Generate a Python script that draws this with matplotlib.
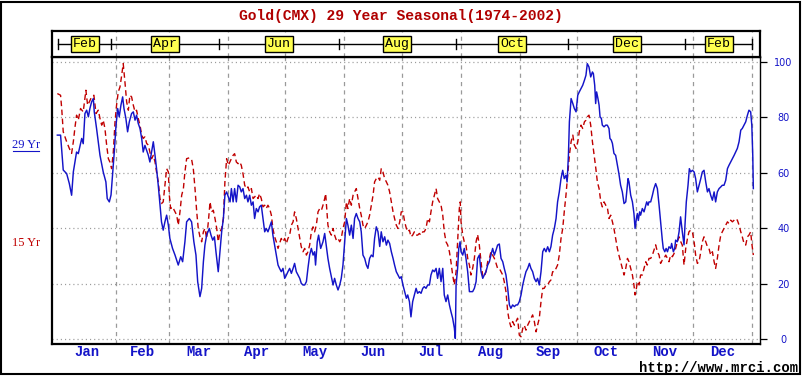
import matplotlib
matplotlib.use("Agg")
import matplotlib.pyplot as plt
from matplotlib.patches import Rectangle
from matplotlib.lines import Line2D

plt.rcParams['lines.scale_dashes'] = False

# ---------------- data (day of year, seasonal index 0-100) ----------------
blue_days = [0.2, 1.9, 3.3, 5.1, 6.5, 7.7, 8.6, 10.3, 11.2, 13.0, 13.8, 14.7, 15.6, 16.5, 17.3, 18.2, 19.1, 19.6,
             20.8, 22.6, 24.3, 25.7, 26.4, 27.5, 28.4, 29.2, 30.1, 31.0, 31.9, 32.7, 33.6, 34.5, 35.2, 36.2, 37.1,
             38.0, 39.2, 40.1, 41.0, 41.8, 42.7, 43.6, 44.5, 45.3, 46.2, 47.1, 48.0, 48.8, 49.7, 50.6, 51.5, 52.3,
             53.2, 54.1, 54.9, 55.8, 56.7, 57.6, 58.5, 59.3, 60.7, 62.0, 63.7, 65.0, 66.0, 67.2, 68.1, 69.5, 70.7,
             71.9, 73.0, 73.9, 75.1, 76.0, 76.9, 77.7, 78.6, 80.0, 80.9, 81.8, 82.7, 83.5, 84.7, 85.6, 86.5, 87.4,
             88.2, 89.1, 90.9,
             91.6, 92.5, 93.3, 94.2, 95.1, 96.0, 96.8, 97.7, 98.6, 99.5, 100.3, 101.2, 102.1, 103.0, 103.8, 104.7,
             105.6, 106.4, 107.3, 108.2, 109.1, 109.9, 110.8, 111.7, 112.6, 113.4, 114.3, 115.2, 116.1, 116.9,
             117.8, 118.7, 119.6, 120.5, 121.3, 122.2, 123.1, 124.0, 124.8, 125.7, 126.6, 127.5, 128.3, 129.2,
             130.1, 131.0, 131.8, 132.7, 133.6, 134.5, 135.3, 135.8, 136.7, 137.4, 138.5, 139.7, 140.6, 141.4,
             142.3, 143.2, 144.1, 145.0, 145.8, 146.7, 147.6, 148.5, 149.3, 150.2, 151.1, 152.0, 152.8, 153.7,
             154.6, 155.5, 156.3, 157.2, 158.1, 159.0, 159.8, 160.7, 161.6, 162.5, 163.3, 164.2, 165.1, 166.0,
             166.8, 167.7, 168.6, 169.5, 170.3, 171.2, 172.1, 173.0, 173.8, 174.7, 175.6, 176.5, 177.3, 178.2,
             179.1, 180.0, 180.8, 181.7, 182.6, 183.5,
             184.2, 185.1, 185.9, 186.8, 187.7, 188.6, 189.4, 190.3, 191.2, 192.1, 192.9, 193.8, 194.7, 195.6,
             196.4, 197.3, 198.2, 199.1, 199.9, 200.8, 201.7, 202.6, 203.4, 204.3, 205.2, 206.1, 206.9, 207.8,
             208.7, 209.2, 209.6, 210.4, 211.0, 211.7, 212.2, 213.1, 213.9, 214.8, 215.7, 216.6, 217.4, 218.3,
             219.2, 220.1, 220.9, 221.8, 222.7, 223.6, 224.4, 225.3, 226.2, 227.1, 227.9, 228.8, 229.7, 230.6,
             231.4, 232.3, 233.2, 234.1, 234.9, 235.8, 236.7, 237.6, 238.4, 239.3, 240.2, 241.1, 241.9, 242.8,
             243.7, 244.6, 245.4, 246.3, 247.2, 248.1, 248.9, 249.8, 250.7, 251.6, 252.4, 253.3, 254.2, 255.1,
             255.9, 256.8, 257.7, 258.6, 259.4, 260.3, 261.2, 262.1, 262.9, 263.8, 264.7, 265.6, 266.4, 267.3,
             267.9, 268.6, 269.1, 270.0, 270.9, 271.7, 272.6, 273.5, 274.3, 275.2, 276.1, 277.0, 277.8,
             278.5, 279.4, 280.3, 281.2, 281.7, 282.4, 282.9, 283.4, 284.1, 284.7, 285.2, 285.9, 286.4, 287.3,
             288.2, 289.0, 289.9, 290.4, 291.1, 291.7, 292.5, 293.4, 294.3, 295.1, 296.0, 296.9, 297.8, 298.7,
             299.2, 299.9, 300.4, 301.3, 302.2, 303.0, 303.6, 304.3, 304.8, 305.3, 306.0, 306.5, 307.4, 308.3,
             309.2, 309.7, 310.4, 310.9, 311.8, 312.7, 313.5, 314.4, 315.3, 316.2, 317.0, 317.9, 318.4, 319.2,
             319.9, 320.6, 321.4, 322.3, 322.8, 323.7, 324.4, 324.9, 325.8, 326.7, 327.5, 328.4, 329.3, 329.8,
             330.5, 331.4, 332.1, 332.8, 333.7, 334.6, 335.4, 336.3, 337.2, 338.1, 338.9, 339.8, 340.7, 341.6,
             342.4, 343.3, 344.2, 345.1, 345.9, 346.8, 347.7, 348.6, 349.4, 350.3, 351.2, 352.1, 352.9, 353.8,
             354.7, 355.6, 356.4, 357.3, 358.2, 359.1, 359.9, 360.8, 361.7, 362.6, 363.4, 364.3, 364.9, 365.4,
             365.7]
blue_vals = [73.6, 73.6, 61.0, 59.7, 56.1, 51.9, 60.3, 67.5, 66.9, 72.4, 70.5, 81.4, 82.6, 80.2, 83.2, 85.6, 86.8, 82.0,
             76.0, 66.3, 60.3, 56.7, 50.7, 49.5, 52.0, 59.1, 67.5, 77.0, 83.2, 80.2, 84.4, 87.4, 83.2, 79.6, 74.8,
             78.4, 81.4, 82.0, 79.0, 80.8, 77.8, 76.0, 72.4, 67.5, 69.9, 68.1, 66.3, 63.9, 67.5, 71.2, 66.3, 61.5,
             55.5, 48.3, 42.3, 39.3, 42.3, 44.7, 41.1, 36.3, 32.7, 30.3, 26.7, 29.7, 27.9, 35.1, 42.3, 43.5, 42.3,
             35.1, 30.3, 20.7, 15.3, 18.3, 27.9, 33.9, 37.5, 39.9, 37.5, 35.7, 36.9, 31.5, 24.3, 31.5, 38.7, 43.5,
             51.9, 53.1, 49.5,
             54.3, 49.5, 54.3, 49.5, 55.5, 54.9, 53.1, 54.3, 50.7, 51.9, 49.5, 51.9, 48.3, 49.5, 43.5, 47.1,
             45.9, 47.7, 48.3, 43.5, 38.7, 39.9, 38.7, 40.5, 42.3, 37.5, 33.9, 30.3, 26.7, 25.5,
             24.3, 25.5, 21.9, 23.1, 24.3, 25.5, 23.7, 25.5, 27.3, 24.3, 23.1, 21.9, 20.1, 19.5,
             19.5, 20.7, 25.5, 30.3, 32.7, 30.3, 31.5, 26.7, 35.1, 37.5, 32.7, 35.1, 38.1, 34.0,
             29.1, 25.5, 22.5, 19.5, 21.9, 19.5, 17.7, 19.5, 21.9, 26.7, 35.1, 43.5, 41.1, 37.5,
             41.1, 36.3, 43.5, 45.3, 43.5, 42.3, 38.7, 30.3, 29.1, 26.7, 25.5, 29.1, 30.3, 29.7,
             36.3, 40.5, 38.7, 33.4, 38.7, 35.1, 36.9, 33.9, 35.7, 34.5, 31.5, 29.1, 26.7, 24.3,
             23.1, 21.9, 22.5, 19.5, 17.1, 14.7,
             15.9, 13.5, 8.0, 13.5, 15.9, 18.3, 16.5, 17.1, 16.5, 18.3, 18.9, 18.3, 19.5, 19.5,
             23.1, 24.9, 24.3, 25.5, 21.9, 25.5, 20.7, 25.5, 15.9, 13.5, 15.9, 12.3, 9.9, 7.5,
             3.9, 0.2, 19.5, 25.5, 32.7, 35.1, 31.5, 30.3, 32.7, 29.1, 24.3, 17.1, 17.1, 17.1,
             18.3, 20.7, 29.1, 30.3, 24.3, 21.9, 23.1, 24.3, 26.7, 27.9, 30.3, 32.7, 30.3, 32.1,
             33.9, 34.3, 29.1, 27.9, 25.5, 23.1, 18.3, 12.3, 11.1, 12.3, 11.7, 12.3, 12.3, 13.5,
             15.9, 19.5, 21.9, 24.3, 25.5, 27.3, 25.5, 24.3, 21.9, 20.7, 21.9, 19.5, 24.3, 31.5,
             32.7, 31.5, 33.3, 31.5, 33.3, 37.5, 39.9, 43.5, 49.5, 53.1, 57.9, 60.9, 57.9, 59.1,
             56.7, 66.3, 78.4, 86.8, 85.0, 83.2, 82.0, 88.0, 89.2, 90.4, 91.6, 93.4, 95.2,
             99.4, 98.2, 94.6, 96.4, 95.8, 91.6, 85.0, 89.2, 86.8, 84.4, 80.2, 79.6, 77.2, 76.6,
             77.2, 77.2, 76.0, 72.4, 71.8, 70.6, 67.0, 66.3, 62.7, 59.7, 55.5, 53.1, 48.9, 49.5,
             53.1, 57.9, 56.7, 51.9, 49.5, 45.3, 39.9, 43.5, 45.3, 42.8, 45.9, 44.7, 47.1, 45.9,
             48.3, 49.5, 48.3, 49.5, 49.5, 51.9, 54.3, 56.1, 54.3, 48.3, 42.3, 35.7, 32.7, 31.5,
             32.7, 31.5, 33.3, 32.7, 34.5, 31.5, 32.7, 35.7, 35.1, 38.7, 44.1, 38.7, 34.0, 41.1,
             49.5, 55.5, 61.5, 60.3, 60.9, 60.3, 57.9, 53.1, 55.5, 57.9, 60.3, 60.9, 56.7, 53.1,
             54.3, 51.9, 50.1, 53.1, 49.5, 53.1, 54.3, 54.9, 55.5, 55.5, 57.3, 61.5, 62.7, 63.9,
             65.1, 66.3, 67.5, 68.8, 71.2, 75.4, 76.0, 77.2, 78.4, 80.8, 82.6, 82.0, 77.2, 66.3,
             54.3]

red_days = [0.2, 1.9, 2.5, 3.3, 4.2, 5.1, 6.5, 7.7, 8.6, 9.5, 10.3, 11.2, 12.4, 13.8, 15.2, 16.1, 17.0, 18.2, 19.4,
            20.5, 21.7, 22.6, 23.5, 24.3, 25.2, 26.1, 27.0, 27.8, 28.7, 29.6, 30.5, 31.3, 32.2, 33.1, 34.0, 34.8,
            35.7, 36.6, 37.5, 38.3, 39.2, 40.1, 41.0, 41.8, 42.7, 43.6, 44.5, 45.3, 46.2, 47.1, 48.0, 48.8, 49.7,
            50.6, 51.5, 52.3, 53.2, 54.1, 54.9, 55.8, 56.7, 57.6, 58.5, 59.0, 59.7, 60.7, 62.0, 62.9, 63.7, 64.6,
            65.5, 66.4, 67.2, 68.1, 69.5, 70.7, 71.6, 72.5, 73.4, 74.2, 75.1, 76.0, 76.9, 77.7, 78.6, 79.5, 80.4,
            81.2, 82.1, 83.0, 83.9, 84.7, 85.6, 86.5, 87.4, 88.2, 89.1, 90.0,
            91.6, 92.5, 93.3, 94.2, 95.1, 96.0, 96.8, 97.7, 98.6, 99.5, 100.3, 101.2, 102.1, 103.0, 103.8,
            104.7, 105.6, 106.4, 107.3, 108.2, 109.1, 109.9, 110.8, 111.7, 112.6, 113.4, 114.3, 115.2, 116.1,
            116.9, 117.8, 118.7, 119.6, 120.5, 121.3, 122.2, 123.1, 124.0, 124.8, 125.7, 126.6, 127.5, 128.3,
            129.2, 130.1, 131.0, 131.8, 132.7, 133.6, 134.5, 135.3, 136.2, 137.1, 138.0, 138.9, 139.7, 140.6,
            141.1, 141.8, 142.3, 143.2, 144.1, 145.0, 145.8, 146.7, 147.6, 148.5, 149.3, 150.2, 151.1, 152.0,
            152.8, 153.7, 154.6, 155.5, 156.3, 157.2, 158.1, 159.0, 159.8, 160.7, 161.6, 162.5, 163.3, 164.2,
            165.1, 166.0, 166.8, 167.7, 168.6, 169.5, 170.3, 171.2, 172.1, 173.0, 173.8, 174.7, 175.6, 176.5,
            177.3, 178.2, 179.1, 180.0, 180.8, 181.7, 182.6, 183.5,
            184.2, 185.1, 185.9, 186.8, 187.7, 188.6, 189.4, 190.3, 191.2, 192.1, 192.9, 193.8, 194.7, 195.6,
            196.4, 197.3, 198.2, 199.1, 199.9, 200.8, 201.7, 202.6, 203.4, 204.3, 205.2, 206.1, 206.9, 207.8,
            208.7, 209.6, 210.4, 211.3, 211.8, 212.2, 213.1, 213.9, 214.8, 215.7, 216.6, 217.4, 218.3, 219.2,
            220.1, 220.9, 221.8, 222.7, 223.6, 224.4, 225.3, 226.2, 227.1, 227.9, 228.8, 229.7, 230.6, 231.4,
            232.3, 233.2, 234.1, 234.9, 235.8, 236.7, 237.6, 238.4, 239.3, 240.2, 241.1, 241.9, 242.8, 243.7,
            244.6, 245.4, 246.3, 247.2, 248.1, 248.9, 249.8, 250.7, 251.6, 252.4, 253.3, 254.2, 255.1, 255.9,
            256.8, 257.7, 258.6, 259.4, 260.3, 261.2, 262.1, 262.9, 263.8, 264.7, 265.6, 266.4, 267.3, 268.2,
            269.1, 270.0, 270.9, 271.7, 272.6, 273.5, 274.3, 275.2, 276.1, 277.0, 277.8,
            278.5, 279.4, 280.3, 281.2, 282.1, 283.0, 283.8, 284.7, 285.6, 286.4, 287.3, 288.2, 289.0, 289.9,
            290.8, 291.7, 292.5, 293.4, 294.3, 295.1, 296.0, 296.9, 297.8, 298.7, 299.6, 300.4, 301.3, 302.2,
            303.0, 303.6, 304.3, 304.8, 305.7, 306.5, 307.4, 308.3, 309.2, 310.0, 310.9, 311.8, 312.7, 313.5,
            314.4, 315.3, 316.2, 317.0, 317.9, 318.8, 319.7, 320.6, 321.4, 322.3, 323.2, 324.1, 324.9, 325.8,
            326.7, 327.6, 328.4, 329.3, 330.2, 331.1, 331.9, 332.8, 333.7, 334.6, 335.4, 336.3, 337.2, 338.1,
            338.9, 339.8, 340.7, 341.6, 342.4, 343.3, 344.2, 345.1, 345.9, 346.8, 347.7, 348.6, 349.4, 350.3,
            351.2, 352.1, 352.9, 353.8, 354.7, 355.6, 356.4, 357.3, 358.2, 359.1, 359.9, 360.8, 361.7, 362.6,
            363.4, 364.3, 364.9, 365.7]
red_vals = [88.6, 88.0, 83.2, 74.8, 73.0, 71.2, 68.8, 67.0, 71.2, 76.6, 80.8, 79.0, 83.2, 82.0, 89.8, 84.4, 85.6, 87.4, 88.0,
            81.4, 82.6, 79.6, 77.2, 79.0, 76.0, 70.0, 65.1, 63.9, 61.5, 67.5, 78.4, 84.4, 89.2, 91.0, 95.2, 99.4,
            92.8, 85.6, 82.6, 88.0, 87.4, 84.4, 82.0, 82.6, 79.6, 77.2, 73.6, 72.4, 73.0, 70.6, 70.0, 67.5, 65.1,
            66.3, 63.9, 60.3, 56.7, 50.7, 48.9, 49.5, 55.5, 61.5, 60.3, 51.9, 47.1, 47.7, 45.9, 44.7, 41.1, 45.9,
            51.9, 54.3, 60.3, 65.1, 65.4, 64.9, 61.5, 54.3, 45.9, 39.9, 36.9, 35.1, 38.7, 39.9, 36.3, 42.3, 49.5,
            45.9, 46.5, 43.5, 39.9, 35.1, 38.7, 39.9, 43.5, 56.7, 65.1, 62.7,
            65.1, 66.3, 66.9, 63.9, 63.3, 63.9, 62.7, 59.7, 55.5, 54.3, 54.9, 53.1, 54.3, 50.7, 51.3,
            51.9, 50.7, 52.5, 50.7, 47.7, 48.3, 47.1, 48.3, 47.1, 44.7, 39.9, 36.9, 35.1, 32.7,
            34.5, 36.3, 35.1, 36.3, 34.5, 36.3, 37.5, 41.1, 42.3, 45.9, 43.5, 39.9, 36.3, 33.3,
            31.5, 32.7, 30.3, 31.5, 33.9, 38.7, 40.5, 38.7, 41.1, 45.9, 47.1, 46.5, 48.3, 50.7,
            52.5, 45.9, 41.1, 38.7, 37.5, 39.9, 37.5, 35.7, 36.3, 35.1, 36.3, 39.9, 42.3, 49.5,
            47.1, 50.7, 48.3, 51.9, 53.1, 54.3, 50.7, 47.1, 44.7, 41.1, 39.9, 41.1, 42.3, 44.7,
            48.3, 51.9, 56.7, 57.9, 58.5, 57.3, 61.5, 60.3, 57.9, 56.7, 55.5, 53.1, 49.5, 45.9,
            43.5, 41.1, 39.9, 42.3, 45.9, 45.9, 42.3, 39.9,
            38.7, 39.3, 36.9, 37.5, 38.7, 37.5, 37.5, 38.1, 37.5, 38.7, 38.7, 39.9, 43.5, 42.3,
            45.9, 49.5, 51.9, 54.3, 50.7, 49.5, 48.3, 44.7, 38.7, 35.1, 33.9, 31.5, 27.9, 23.1,
            19.5, 24.3, 35.1, 47.1, 49.5, 42.3, 37.5, 35.1, 33.9, 29.1, 26.7, 23.1, 25.5, 29.1,
            35.1, 37.7, 33.9, 27.9, 22.5, 22.5, 24.3, 27.9, 29.1, 31.5, 30.3, 29.1, 27.3, 25.5,
            25.5, 24.3, 23.1, 20.7, 17.1, 9.9, 6.3, 4.4, 6.3, 5.0, 6.3, 7.5, 1.4, 0.8,
            3.8, 5.0, 3.2, 5.0, 6.3, 7.5, 8.7, 6.3, 2.6, 5.0, 7.5, 13.5, 18.3, 18.3,
            19.5, 19.5, 20.7, 21.3, 24.3, 24.3, 25.5, 26.7, 30.3, 36.3, 39.9, 45.9, 51.9, 59.1,
            66.3, 71.2, 73.6, 70.0, 68.8, 71.2, 74.8, 77.2, 76.0, 78.4, 79.0,
            80.2, 80.8, 77.2, 71.2, 66.3, 61.5, 56.7, 54.3, 49.5, 47.7, 49.5, 48.3, 47.7, 43.5,
            44.7, 42.3, 39.9, 36.3, 32.7, 30.3, 27.9, 25.5, 23.1, 25.5, 29.1, 27.9, 25.5, 23.1,
            19.5, 15.9, 18.3, 20.7, 19.5, 23.1, 23.1, 25.5, 27.9, 26.7, 29.1, 29.1, 30.3, 32.1,
            34.0, 31.5, 30.3, 27.3, 28.5, 29.1, 30.3, 29.1, 27.9, 30.3, 29.7, 30.9, 32.7, 35.1,
            36.9, 35.1, 33.9, 26.7, 32.7, 36.3, 38.7, 39.3, 38.7, 35.1, 30.3, 27.3, 27.9, 31.5,
            35.1, 36.9, 35.1, 33.3, 32.7, 30.3, 31.5, 27.9, 25.5, 29.1, 33.9, 37.5, 38.7, 39.9,
            41.1, 42.3, 41.7, 42.9, 42.3, 42.9, 43.5, 42.9, 41.1, 38.7, 36.9, 34.5, 33.9, 36.9,
            37.5, 38.7, 34.5, 30.3]

month_labels = ["Jan", "Feb", "Mar", "Apr", "May", "Jun", "Jul", "Aug", "Sep", "Oct", "Nov", "Dec"]
month_starts = [0, 31, 59, 90, 120, 151, 181, 212, 243, 273, 304, 334, 365]
contract_labels = ["Feb", "Apr", "Jun", "Aug", "Oct", "Dec", "Feb"]
contract_bounds = [0.5, 28.5, 85, 148, 209.5, 268.5, 330, 365]
y_ticks = [0, 20, 40, 60, 80, 100]

title = "Gold(CMX) 29 Year Seasonal(1974-2002)"
blue_label = "29 Yr"
red_label = "15 Yr"
source = "http://www.mrci.com"

# ---------------- styling ----------------
W, H = 802, 376
BLUE = "#1414c8"
RED = "#c00000"
GRID = "#9a9a9a"
MONO = ["Liberation Mono", "DejaVu Sans Mono"]
SERIF = ["Liberation Serif", "DejaVu Serif"]

fig = plt.figure(figsize=(W / 100, H / 100), dpi=100)
fig.patch.set_facecolor("white")

L, R, T, B = 52, 760, 57, 344
XLIM = (-2.6, 369.2)
ax = fig.add_axes([L / W, (H - B) / H, (R - L) / W, (B - T) / H])
ax.set_xlim(*XLIM)
ax.set_ylim(-1.8, 101.8)

for d in month_starts[1:]:
    ax.axvline(d, color=GRID, lw=0.9, dashes=(3, 3), zorder=1)
for v in y_ticks:
    ax.axhline(v, color=GRID, lw=0.9, dashes=(0.8, 2.2), zorder=1)

ax.plot(red_days, red_vals, color=RED, lw=1.0, dashes=(4, 2.5), zorder=3)
ax.plot(blue_days, blue_vals, color=BLUE, lw=1.05, zorder=4)

for s in ["left", "bottom"]:
    ax.spines[s].set_linewidth(1.6)
ax.spines["right"].set_linewidth(1.0)
ax.spines["top"].set_linewidth(1.6)

ax.yaxis.tick_right()
ax.set_yticks(y_ticks)
ax.set_yticklabels([str(v) for v in y_ticks], color=BLUE, fontsize=7, ha="center")
ax.tick_params(axis="y", direction="out", length=5, width=0.9, pad=12)

mids = [(month_starts[i] + month_starts[i + 1]) / 2 for i in range(12)]
ax.set_xticks(mids)
ax.set_xticklabels(month_labels, color=BLUE, fontsize=10, family=MONO, fontweight="bold")
ax.tick_params(axis="x", length=0, pad=1)

# ---------------- contract band ----------------
bax = fig.add_axes([L / W, (H - T) / H, (R - L) / W, (T - 31) / H])
bax.set_xlim(*XLIM)
bax.set_ylim(0, 1)
bax.set_xticks([])
bax.set_yticks([])
for s in bax.spines.values():
    s.set_linewidth(1.6)
for d in month_starts[1:]:
    bax.axvline(d, color=GRID, lw=0.9, dashes=(3, 3), zorder=1)
bax.plot([contract_bounds[0], contract_bounds[-1]], [0.5, 0.5], color="black", lw=1.0, zorder=2)
for d in contract_bounds:
    bax.plot([d, d], [0.3, 0.7], color="black", lw=1.0, zorder=2)
for i, lab in enumerate(contract_labels):
    c = (contract_bounds[i] + contract_bounds[i + 1]) / 2
    bax.text(c, 0.5, lab, ha="center", va="center", fontsize=9.5, family=MONO, color="black", zorder=3,
             bbox=dict(boxstyle="square,pad=0.15", fc="#ffff50", ec="black", lw=1.0))

# ---------------- texts ----------------
fig.text(401 / W, 1 - 16 / H, title, ha="center", va="center", color="#b00000",
         fontsize=10.5, family=MONO, fontweight="bold")
fig.text(26 / W, 1 - 145 / H, blue_label, ha="center", va="center", color=BLUE, fontsize=9, family=SERIF)
fig.add_artist(Line2D([13 / W, 39 / W], [1 - 151 / H, 1 - 151 / H], color=BLUE, lw=0.8))
fig.text(26 / W, 1 - 243 / H, red_label, ha="center", va="center", color=RED, fontsize=9, family=SERIF)
fig.text(798 / W, 1 - 372 / H, source, ha="right", va="baseline", color="black",
         fontsize=10, family=MONO, fontweight="bold")

fig.add_artist(Rectangle((1 / W, 2 / H), 799 / W, 372 / H, transform=fig.transFigure,
                         fill=False, ec="black", lw=1.5))

fig.savefig("out.png", dpi=100, facecolor="white")
